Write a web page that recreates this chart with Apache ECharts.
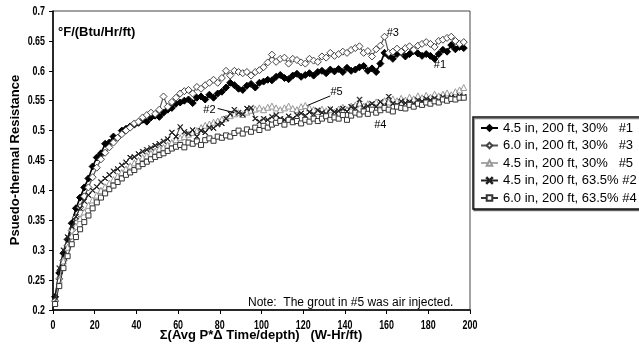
<!DOCTYPE html>
<html>
<head>
<meta charset="utf-8">
<script src="https://cdn.jsdelivr.net/npm/echarts@6/dist/echarts.min.js"></script>
<style>
  html, body { margin: 0; padding: 0; background: #fff; }
  #chart { width: 639px; height: 356px; }
</style>
</head>
<body>
<div id="chart"></div>
<script>
// Cumulative energy input, W-Hr/ft
const xValues = [
  1, 3, 5, 7, 9, 11, 13, 15, 17, 19,
  21, 23, 25, 27, 29, 31, 33, 35, 37, 39,
  41, 43, 45, 47, 49, 51, 53, 55, 57, 59,
  61, 63, 65, 67, 69, 71, 73, 75, 77, 79,
  81, 83, 85, 87, 89, 91, 93, 95, 97, 99,
  101, 103, 105, 107, 109, 111, 113, 115, 117, 119,
  121, 123, 125, 127, 129, 131, 133, 135, 137, 139,
  141, 143, 145, 147, 149, 151, 153, 155, 157, 159,
  161, 163, 165, 167, 169, 171, 173, 175, 177, 179,
  181, 183, 185, 187, 189, 191, 193, 195, 197
];

// Pseudo-thermal resistance, °F/(Btu/Hr/ft)
const run1 = [
  .222, .262, .295, .318, .345, .370, .388, .405, .420, .440,
  .455, .462, .478, .480, .490, .488, .500, .503, .507, .510,
  .513, .518, .515, .522, .525, .523, .530, .535, .538, .545,
  .547, .550, .552, .546, .555, .557, .552, .560, .555, .562,
  .565, .572, .580, .576, .570, .568, .575, .578, .572, .580,
  .582, .585, .584, .590, .593, .588, .586, .592, .595, .590,
  .593, .596, .592, .598, .600, .596, .602, .599, .603, .598,
  .605, .600, .602, .606, .608, .600, .604, .598, .612, .630,
  .625, .620, .628, .631, .624, .628, .633, .629, .625, .628,
  .625, .620, .628, .635, .632, .643, .636, .640, .638
];
const run3 = [
  .215, .252, .283, .308, .333, .355, .372, .390, .405, .422,
  .438, .452, .463, .472, .480, .488, .494, .500, .505, .512,
  .515, .522, .526, .530, .528, .535, .557, .540, .548, .555,
  .562, .566, .568, .562, .573, .570, .576, .580, .585, .580,
  .588, .600, .592, .600, .598, .596, .598, .592, .598, .601,
  .606, .614, .627, .615, .620, .622, .612, .620, .618, .614,
  .612, .620, .617, .615, .624, .622, .630, .625, .628, .632,
  .630, .635, .638, .641, .630, .633, .624, .636, .642, .657,
  .630, .632, .637, .632, .638, .641, .635, .642, .645, .648,
  .645, .640, .650, .652, .655, .657, .650, .645, .648
];
const run5 = [
  .212, .250, .282, .305, .324, .340, .353, .364, .375, .384,
  .392, .400, .406, .412, .418, .424, .430, .436, .441, .446,
  .450, .455, .458, .462, .466, .470, .472, .476, .480, .485,
  .488, .490, .494, .497, .500, .505, .509, .511, .514, .516,
  .519, .521, .525, .528, .530, .527, .531, .534, .536, .538,
  .535, .539, .541, .538, .535, .538, .541, .537, .535, .540,
  .542, .538, .535, .532, .536, .533, .535, .531, .536, .539,
  .535, .541, .543, .546, .541, .545, .543, .548, .545, .550,
  .548, .553, .550, .554, .551, .556, .553, .558, .555, .559,
  .556, .561, .558, .561, .563, .560, .565, .568, .572
];
const run2 = [
  .222, .270, .300, .322, .340, .356, .370, .382, .392, .400,
  .406, .414, .420, .426, .432, .436, .442, .447, .455, .456,
  .461, .465, .468, .471, .475, .478, .482, .486, .497, .490,
  .506, .498, .495, .501, .490, .500, .497, .505, .504, .510,
  .512, .520, .528, .535, .530, .527, .537, .538, .520, .515,
  .520, .518, .523, .526, .520, .518, .524, .520, .526, .529,
  .525, .531, .527, .534, .530, .528, .536, .531, .533, .537,
  .532, .540, .537, .552, .538, .541, .545, .540, .548, .541,
  .557, .545, .543, .549, .546, .548, .545, .551, .549, .553,
  .551, .554, .550, .556, .553, .556, .555, .558, .557
];
const run4 = [
  .210, .240, .270, .290, .310, .322, .335, .347, .358, .370,
  .380, .388, .395, .402, .408, .414, .420, .426, .430, .434,
  .440, .444, .448, .452, .456, .459, .462, .466, .470, .473,
  .476, .472, .480, .478, .482, .476, .484, .487, .483, .490,
  .488, .492, .490, .496, .500, .495, .502, .498, .505, .501,
  .508, .505, .510, .513, .516, .510, .518, .514, .516, .512,
  .518, .515, .520, .516, .520, .524, .518, .522, .520, .526,
  .518, .525, .530, .527, .532, .528, .535, .530, .534, .538,
  .535, .532, .540, .538, .537, .543, .540, .545, .543, .547,
  .545, .549, .547, .552, .550, .553, .552, .555, .555
];

const seriesNames = [
  '4.5 in, 200 ft, 30%   #1',
  '6.0 in, 200 ft, 30%   #3',
  '4.5 in, 200 ft, 30%   #5',
  '4.5 in, 200 ft, 63.5% #2',
  '6.0 in, 200 ft, 63.5% #4'
];

// Axis tick labels
const xTicks = [0, 20, 40, 60, 80, 100, 120, 140, 160, 180, 200];
const yTicks = [0.2, 0.25, 0.3, 0.35, 0.4, 0.45, 0.5, 0.55, 0.6, 0.65, 0.7];

// Callout tags placed in data space
const tagLabels = ['#1', '#3', '#5', '#2', '#4'];
const tagAt = [[185.6, 0.610], [163, 0.663], [136, 0.565], [75, 0.535], [157, 0.510]];
const leaderLines = [null, null, [[133, 0.558], [122, 0.542]], [[79, 0.537], [87, 0.530]], null];

const sansFont = 'Arial, "Liberation Sans", sans-serif';
const tickFont = 'bold 13.5px ' + sansFont;
const crossPath = 'path://M0,0.7L0.7,0L5,4.3L9.3,0L10,0.7L5.7,5L10,9.3L9.3,10L5,5.7L0.7,10L0,9.3L4.3,5Z';

const pairs = v => xValues.map((x, i) => [x, v[i]]);

const chart = echarts.init(document.getElementById('chart'), null, { renderer: 'canvas' });

const styles = [
  { data: run1, symbol: 'diamond', size: 7, line: '#000', lw: 1.6, fill: '#000', border: '#000' },
  { data: run3, symbol: 'diamond', size: 7, line: '#555', lw: 1.2, fill: '#fff', border: '#444' },
  { data: run5, symbol: 'triangle', size: 6, line: '#aaa', lw: 1.2, fill: '#fff', border: '#999' },
  { data: run2, symbol: crossPath, size: 5, line: '#222', lw: 0.9, fill: '#222', border: '#222' },
  { data: run4, symbol: 'rect', size: 5, line: '#333', lw: 1, fill: '#fff', border: '#333' }
];

chart.setOption({
  animation: false,
  backgroundColor: '#fff',
  grid: { left: 53, right: 169, top: 11, bottom: 46, show: true, borderColor: '#444', borderWidth: 1 },
  xAxis: {
    type: 'value', min: 0, max: 200, interval: 20,
    axisLine: { lineStyle: { color: '#000', width: 1.5 } },
    axisTick: { show: true, length: 4, lineStyle: { color: '#000' } },
    splitLine: { show: false },
    axisLabel: { show: false }
  },
  yAxis: {
    type: 'value', min: 0.2, max: 0.7, interval: 0.05,
    axisLine: { show: true, lineStyle: { color: '#000', width: 1.5 } },
    axisTick: { show: true, length: 4, lineStyle: { color: '#000' } },
    splitLine: { show: false },
    axisLabel: { show: false }
  },
  legend: {
    orient: 'vertical', left: 473, top: 117,
    padding: [4, 8, 4, 7],
    itemWidth: 17, itemHeight: 7, itemGap: 3.5,
    backgroundColor: '#fff', borderColor: '#111', borderWidth: 1.5,
    shadowColor: 'rgba(0,0,0,0.5)', shadowOffsetX: 1, shadowOffsetY: 1.5, shadowBlur: 0,
    textStyle: { color: '#000', fontFamily: sansFont, fontSize: 13, lineHeight: 14 },
    data: seriesNames
  },
  series: styles.map((s, i) => ({
    name: seriesNames[i],
    type: 'line',
    data: pairs(s.data),
    symbol: s.symbol,
    symbolSize: s.size,
    showAllSymbol: true,
    lineStyle: { color: s.line, width: s.lw },
    itemStyle: { color: s.fill, borderColor: s.border, borderWidth: 1 },
    z: 2 + i
  }))
});

// Titles, unit, note, condensed tick labels and numbered callouts
const graphics = [
  {
    type: 'text', left: 58, top: 26,
    style: { text: '°F/(Btu/Hr/ft)', font: 'bold 13px ' + sansFont, fill: '#000' }
  },
  {
    type: 'text', x: 15, y: 160, rotation: Math.PI / 2,
    style: { text: 'Psuedo-thermal Resistance', font: 'bold 13px ' + sansFont,
             fill: '#000', textAlign: 'center', textVerticalAlign: 'middle' }
  },
  {
    type: 'text', x: 261, y: 335,
    style: { text: 'Σ(Avg P*Δ Time/depth)   (W-Hr/ft)', font: 'bold 13px ' + sansFont,
             fill: '#000', textAlign: 'center', textVerticalAlign: 'middle' }
  },
  {
    type: 'text', x: 248, y: 303,
    style: { text: 'Note:  The grout in #5 was air injected.', font: '12px ' + sansFont,
             fill: '#000', textAlign: 'left', textVerticalAlign: 'middle' }
  }
];
xTicks.forEach(v => {
  const p = chart.convertToPixel({ gridIndex: 0 }, [v, 0.2]);
  graphics.push({
    type: 'text', x: p[0], y: p[1] + 15, scaleX: 0.66,
    style: { text: String(v), font: tickFont, fill: '#000', textAlign: 'center', textVerticalAlign: 'middle' }
  });
});
yTicks.forEach(v => {
  const p = chart.convertToPixel({ gridIndex: 0 }, [0, v]);
  graphics.push({
    type: 'text', x: p[0] - 8, y: p[1], scaleX: 0.66,
    style: { text: String(v), font: tickFont, fill: '#000', textAlign: 'right', textVerticalAlign: 'middle' }
  });
});
tagLabels.forEach((t, i) => {
  const p = chart.convertToPixel({ gridIndex: 0 }, tagAt[i]);
  graphics.push({
    type: 'text', x: p[0], y: p[1], z: 20,
    style: { text: t, font: '11px ' + sansFont, fill: '#000',
             textAlign: 'center', textVerticalAlign: 'middle' }
  });
  if (leaderLines[i]) {
    const a = chart.convertToPixel({ gridIndex: 0 }, leaderLines[i][0]);
    const b = chart.convertToPixel({ gridIndex: 0 }, leaderLines[i][1]);
    graphics.push({
      type: 'line', z: 20,
      shape: { x1: a[0], y1: a[1], x2: b[0], y2: b[1] },
      style: { stroke: '#000', lineWidth: 1 }
    });
  }
});
chart.setOption({ graphic: graphics });
</script>
</body>
</html>
